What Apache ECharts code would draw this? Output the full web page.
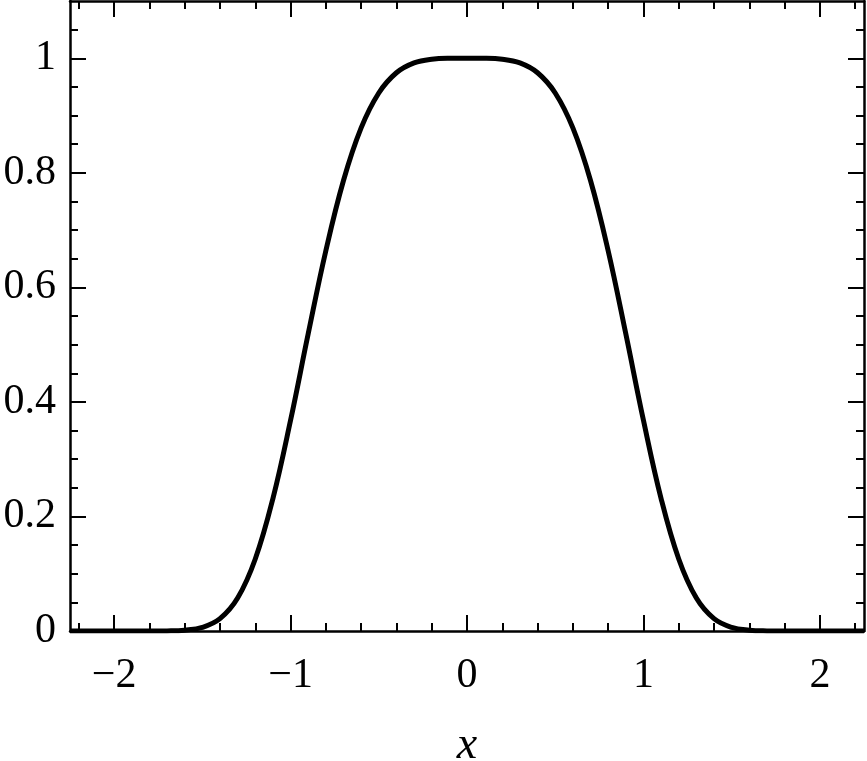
<!DOCTYPE html>
<html>
<head>
<meta charset="utf-8">
<script src="https://cdn.jsdelivr.net/npm/echarts@6/dist/echarts.min.js"></script>
<style>
html,body{margin:0;padding:0;background:#fff;}
#main{width:867px;height:761px;}
</style>
</head>
<body>
<div id="main"></div>
<script>
// x positions and curve values
var xValues = [-2.25,-2.2,-2.1,-2.0,-1.9,-1.8,-1.7,-1.6,-1.5,-1.4,-1.3,-1.2,-1.1,-1.0,-0.9,-0.8,-0.7,-0.6,-0.5,-0.4,-0.3,-0.2,-0.1,0,
               0.1,0.2,0.3,0.4,0.5,0.6,0.7,0.8,0.9,1.0,1.1,1.2,1.3,1.4,1.5,1.6,1.7,1.8,1.9,2.0,2.1,2.2,2.25];
var yValues = [0,0,0,0,0,0,0.0002,0.0014,0.0063,0.0215,0.0575,0.1257,0.2313,0.3679,0.5189,0.6639,0.7866,0.8784,0.9394,0.9747,0.9919,0.9984,0.9999,1,
               0.9999,0.9984,0.9919,0.9747,0.9394,0.8784,0.7866,0.6639,0.5189,0.3679,0.2313,0.1257,0.0575,0.0215,0.0063,0.0014,0.0002,0,0,0,0,0,0];
var xMajorTicks = [-2,-1,0,1,2];
var xMinorTicks = [-2.2,-1.8,-1.6,-1.4,-1.2,-0.8,-0.6,-0.4,-0.2,0.2,0.4,0.6,0.8,1.2,1.4,1.6,1.8,2.2];
var yMajorTicks = [0,0.2,0.4,0.6,0.8,1];
var yMinorTicks = [0.05,0.1,0.15,0.25,0.3,0.35,0.45,0.5,0.55,0.65,0.7,0.75,0.85,0.9,0.95,1.05];
var xRange = [-2.25, 2.25];
var yRange = [0, 1.1];

var FONT = 'Liberation Serif';
function fmt(v){ var s = String(v); return s.replace('-', '\u2212'); }

var chart = echarts.init(document.getElementById('main'), null, {renderer:'canvas'});
var gridPos = {left:70, right:3, top:1, bottom:130, containLabel:false, outerBoundsMode:'none'};
var lineStyle = {color:'#000', width:2.5};

function xAx(grid, pos, ticks, len, labels, show){
  var o = {
    type:'value', gridIndex:grid, position:pos, min:xRange[0], max:xRange[1],
    axisLine:{show:show, onZero:false, lineStyle:lineStyle},
    axisTick:{show:true, inside:true, length:len, customValues:ticks, lineStyle:{color:'#000', width:2}},
    axisLabel:{show:labels, customValues:ticks, formatter:fmt, fontFamily:FONT, fontSize:42, color:'#000', margin:24},
    splitLine:{show:false}
  };
  return o;
}
function yAx(grid, pos, ticks, len, labels, show){
  return {
    type:'value', gridIndex:grid, position:pos, min:yRange[0], max:yRange[1],
    axisLine:{show:show, onZero:false, lineStyle:lineStyle},
    axisTick:{show:true, inside:true, length:len, customValues:ticks, lineStyle:{color:'#000', width:2}},
    axisLabel:{show:labels, customValues:ticks, formatter:fmt, fontFamily:FONT, fontSize:42, color:'#000', margin:14},
    splitLine:{show:false}
  };
}

var xAxes = [
  xAx(0,'bottom',xMajorTicks,16,true,true),
  xAx(0,'top',xMajorTicks,16,false,true),
  xAx(1,'bottom',xMinorTicks,8,false,false),
  xAx(1,'top',xMinorTicks,8,false,false)
];
xAxes[0].name = 'x';
xAxes[0].nameLocation = 'middle';
xAxes[0].nameGap = 92;
xAxes[0].nameTextStyle = {fontFamily:FONT, fontStyle:'italic', fontSize:46, color:'#000'};

var yAxes = [
  yAx(0,'left',yMajorTicks,16,true,true),
  yAx(0,'right',yMajorTicks,16,false,true),
  yAx(1,'left',yMinorTicks,8,false,false),
  yAx(1,'right',yMinorTicks,8,false,false)
];

var seriesData = xValues.map(function(x,i){ return [x, yValues[i]]; });

chart.setOption({
  animation:false,
  backgroundColor:'#fff',
  grid:[gridPos, gridPos],
  xAxis:xAxes,
  yAxis:yAxes,
  series:[{
    type:'line', xAxisIndex:0, yAxisIndex:0, data:seriesData,
    smooth:0.4, showSymbol:false, symbol:'none',
    lineStyle:{color:'#000', width:5}, clip:true, z:5
  }]
});
</script>
</body>
</html>
